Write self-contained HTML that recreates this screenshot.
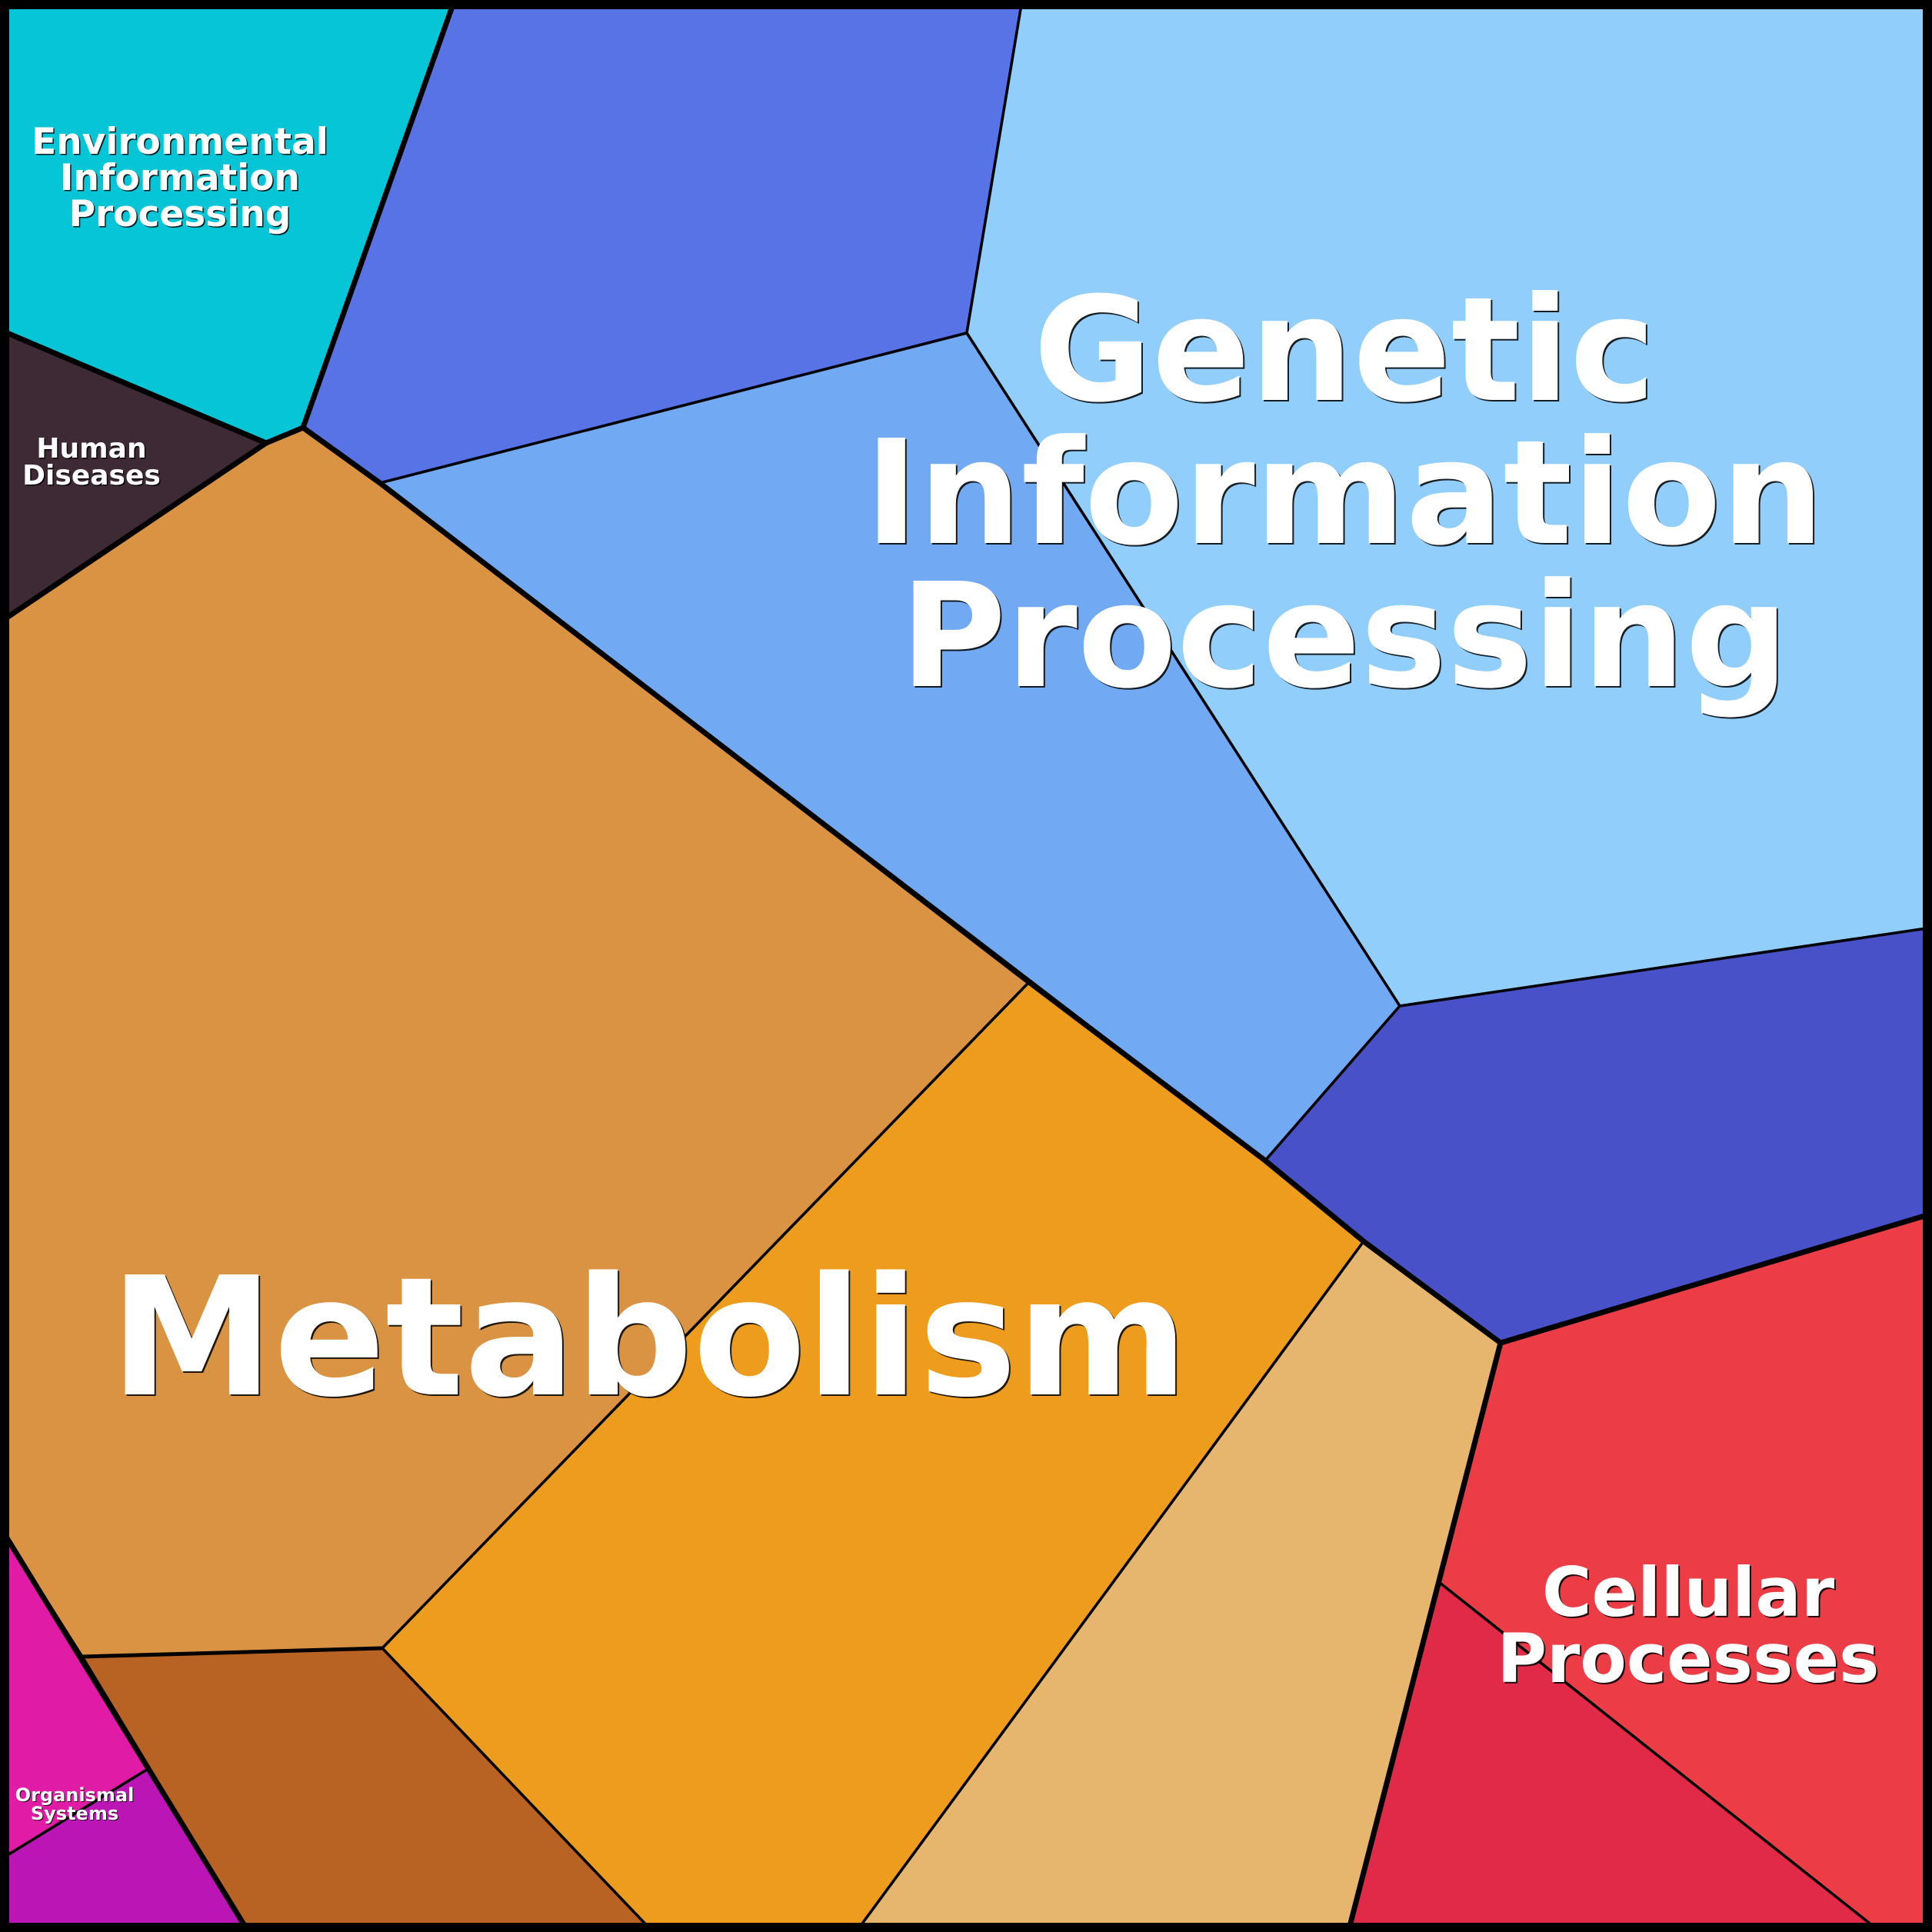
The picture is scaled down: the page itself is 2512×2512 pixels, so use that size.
<!DOCTYPE html>
<html>
<head>
<meta charset="utf-8">
<style>
  html, body { margin: 0; padding: 0; background: #000; }
  svg { display: block; }
  text { font-family: "DejaVu Sans", "Liberation Sans", sans-serif; font-weight: bold; text-anchor: middle; }
  .sh { fill: #000; opacity: 0.85; }
  .fg { fill: #fff; }
</style>
</head>
<body>
<svg width="2512" height="2512" viewBox="0 0 2512 2512" xmlns="http://www.w3.org/2000/svg">
  <g stroke="#000" stroke-width="3.5" stroke-linejoin="round">
    <!-- Environmental Information Processing -->
    <polygon fill="#05C5D6" points="0,0 591,0 394,556 346,576 0,429"/>
    <!-- Human Diseases -->
    <polygon fill="#3D2A35" points="0,429 346,576 0,809"/>
    <!-- Blue -->
    <polygon fill="#5873E6" points="591,0 1329,0 1257,433 494,628 394,556"/>
    <!-- Light blue -->
    <polygon fill="#92CEFC" points="1329,0 2512,0 2512,1206 1820,1308 1257,433"/>
    <!-- Mid blue -->
    <polygon fill="#71A9F3" points="1257,433 1820,1308 1645,1509 494,628"/>
    <!-- Indigo -->
    <polygon fill="#4951C9" points="1820,1308 2512,1206 2512,1578 1951,1746 1773,1614 1645,1509"/>
    <!-- Metabolism brown -->
    <polygon fill="#DA9243" points="346,576 394,556 494,628 1338,1277 497,2143 107,2154 0,1985 0,809"/>
    <!-- Orange -->
    <polygon fill="#ED9C1D" points="1338,1277 1645,1509 1773,1614 1113,2512 849,2512 497,2143"/>
    <!-- Dark brown -->
    <polygon fill="#B86323" points="107,2154 497,2143 849,2512 323,2512"/>
    <!-- Tan -->
    <polygon fill="#E6B66E" points="1773,1614 1951,1746 1753,2512 1113,2512"/>
    <!-- Red -->
    <polygon fill="#EC3C45" points="1951,1746 2512,1578 2512,2512 2445,2512 1872,2058"/>
    <!-- Crimson -->
    <polygon fill="#E12A48" points="1872,2058 2445,2512 1753,2512"/>
    <!-- Magenta -->
    <polygon fill="#E01BA6" points="0,1985 194,2299 0,2418"/>
    <!-- Purple -->
    <polygon fill="#BC15B5" points="0,2418 194,2299 323,2512 0,2512"/>
  </g>

  <!-- medium line -->
  <polyline points="107,2154 497,2143" fill="none" stroke="#000" stroke-width="5" stroke-linecap="round"/>

  <!-- thick top-level boundaries -->
  <g fill="none" stroke="#000" stroke-width="7" stroke-linejoin="round" stroke-linecap="round">
    <polyline points="591,0 394,556"/>
    <polyline points="0,429 346,576 0,809"/>
    <polyline points="346,576 394,556 494,628 1338,1277 1645,1509 1773,1614 1951,1746 2512,1578"/>
    <polyline points="1951,1746 1753,2512"/>
    <polyline points="0,1985 323,2512"/>
  </g>

  <!-- outer border -->
  <rect x="0" y="0" width="2512" height="2512" fill="none" stroke="#000" stroke-width="24"/>

  <!-- Labels -->
  <g font-size="188">
    <text class="sh" x="1750" y="522">Genetic</text>
    <text class="fg" x="1748" y="520">Genetic</text>
    <text class="sh" x="1750" y="708">Information</text>
    <text class="fg" x="1748" y="706">Information</text>
    <text class="sh" x="1750" y="894">Processing</text>
    <text class="fg" x="1748" y="892">Processing</text>
  </g>

  <g font-size="214">
    <text class="sh" x="846" y="1815">Metabolism</text>
    <text class="fg" x="844" y="1813">Metabolism</text>
  </g>

  <g font-size="47">
    <text class="sh" x="235.5" y="201.5">Environmental</text>
    <text class="fg" x="234" y="200">Environmental</text>
    <text class="sh" x="235.5" y="248.5">Information</text>
    <text class="fg" x="234" y="247">Information</text>
    <text class="sh" x="235.5" y="295.5">Processing</text>
    <text class="fg" x="234" y="294">Processing</text>
  </g>

  <g font-size="36">
    <text class="sh" x="120.5" y="596.5">Human</text>
    <text class="fg" x="119" y="595">Human</text>
    <text class="sh" x="120.5" y="631.5">Diseases</text>
    <text class="fg" x="119" y="630">Diseases</text>
  </g>

  <g font-size="24">
    <text class="sh" x="98" y="2343">Organismal</text>
    <text class="fg" x="97" y="2342">Organismal</text>
    <text class="sh" x="98" y="2367">Systems</text>
    <text class="fg" x="97" y="2366">Systems</text>
  </g>

  <g font-size="88">
    <text class="sh" x="2197" y="2103">Cellular</text>
    <text class="fg" x="2195" y="2101">Cellular</text>
    <text class="sh" x="2197" y="2189">Processes</text>
    <text class="fg" x="2195" y="2187">Processes</text>
  </g>
</svg>
</body>
</html>
